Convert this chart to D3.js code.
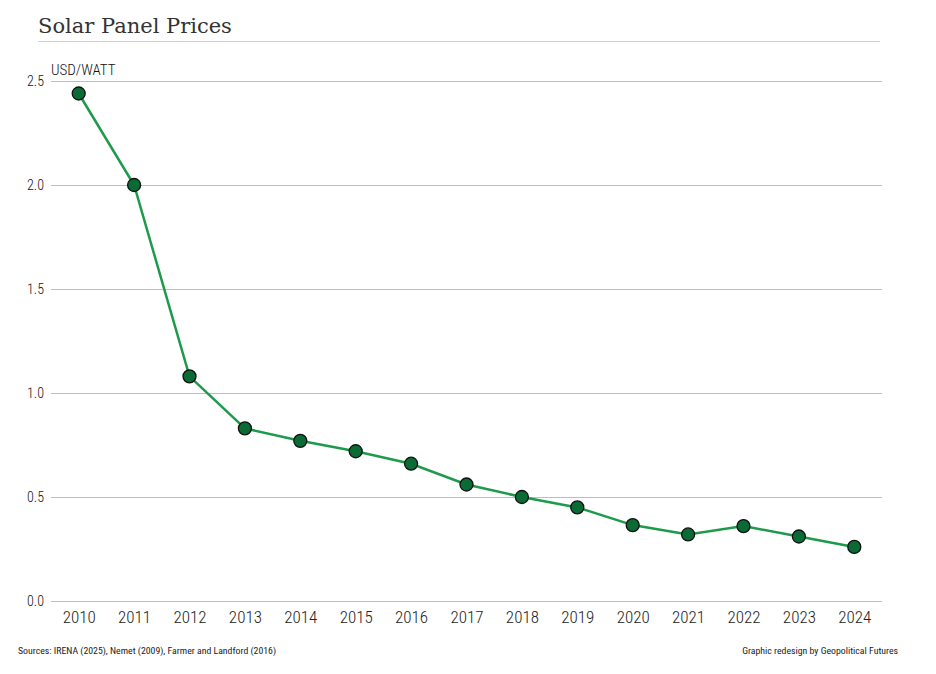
<!DOCTYPE html>
<html>
<head>
<meta charset="utf-8">
<script src="https://cdn.jsdelivr.net/npm/d3@7"></script>
<style>
	body { margin: 0; background: #fff; }
	text { font-family: "Roboto Condensed", "Liberation Sans Narrow", Roboto, sans-serif; }
</style>
</head>
<body>
<svg id="chart" width="936" height="674"></svg>
<script>
//chart data
var years = ['2010', '2011', '2012', '2013', '2014', '2015', '2016', '2017', '2018', '2019', '2020', '2021', '2022', '2023', '2024'];
var prices = [2.44, 2.0, 1.08, 0.83, 0.77, 0.72, 0.66, 0.56, 0.50, 0.45, 0.365, 0.32, 0.36, 0.31, 0.26];
var yTicks = [0, 0.5, 1, 1.5, 2, 2.5];

//common vars
var fv = {
	'left': 51,
	'right': 882,
	'top': 81,
	'bottom': 601
};

var svg = d3.select('#chart');

//scales
var x = d3.scalePoint()
	.domain(years)
	.range([fv.left, fv.right])
	.padding(0.5);

var y = d3.scaleLinear()
	.domain([0, 2.5])
	.range([fv.bottom, fv.top]);

//title
svg.append('text')
	.attr('x', 38)
	.attr('y', 33)
	.style('font-family', '"DejaVu Serif", "Liberation Serif", serif')
	.style('font-size', '21px')
	.style('fill', '#333')
	.text('Solar Panel Prices');

svg.append('line')
	.attr('x1', 38).attr('x2', 880)
	.attr('y1', 41.5).attr('y2', 41.5)
	.style('stroke', '#d0d0d0')
	.style('stroke-width', 1);

//grid + y labels
var yAxis = svg.append('g')
	.attr('transform', 'translate(' + fv.left + ',0)')
	.call(d3.axisLeft(y).tickValues(yTicks).tickFormat(d3.format('.1f'))
		.tickSize(-(fv.right - fv.left)).tickPadding(7));
yAxis.select('.domain').remove();
yAxis.selectAll('.tick line').style('stroke', '#bdbdbd');
yAxis.selectAll('.tick text')
	.style('font-size', '14px')
	.style('font-weight', 300)
	.style('fill', '#111');

//x labels
var xAxis = svg.append('g')
	.attr('transform', 'translate(0,' + fv.bottom + ')')
	.call(d3.axisBottom(x).tickSize(0).tickPadding(10));
xAxis.select('.domain').remove();
xAxis.selectAll('.tick text')
	.style('font-size', '17px')
	.style('font-weight', 300)
	.style('fill', '#222');

//unit label
svg.append('text')
	.attr('x', fv.left)
	.attr('y', 75)
	.style('font-size', '15px')
	.style('font-weight', 300)
	.style('fill', '#111')
	.text('USD/WATT');

//line
var line = d3.line()
	.x(function(d, i) { return x(years[i]); })
	.y(function(d) { return y(d); });

svg.append('path')
	.datum(prices)
	.attr('d', line)
	.style('fill', 'none')
	.style('stroke', '#1e9a4b')
	.style('stroke-width', 2.5);

//points
svg.selectAll('.dot')
	.data(prices)
	.enter().append('circle')
	.attr('class', 'dot')
	.attr('cx', function(d, i) { return x(years[i]); })
	.attr('cy', function(d) { return y(d); })
	.attr('r', 6.5)
	.style('fill', '#0b6b35')
	.style('stroke', '#111')
	.style('stroke-width', 1.3);

//footer
svg.append('text')
	.attr('x', 18)
	.attr('y', 654)
	.style('font-size', '9.8px')
	.style('fill', '#222')
	.text('Sources: IRENA (2025), Nemet (2009), Farmer and Landford (2016)');

svg.append('text')
	.attr('x', 898)
	.attr('y', 654)
	.attr('text-anchor', 'end')
	.style('font-size', '9.8px')
	.style('fill', '#222')
	.text('Graphic redesign by Geopolitical Futures');
</script>
</body>
</html>
